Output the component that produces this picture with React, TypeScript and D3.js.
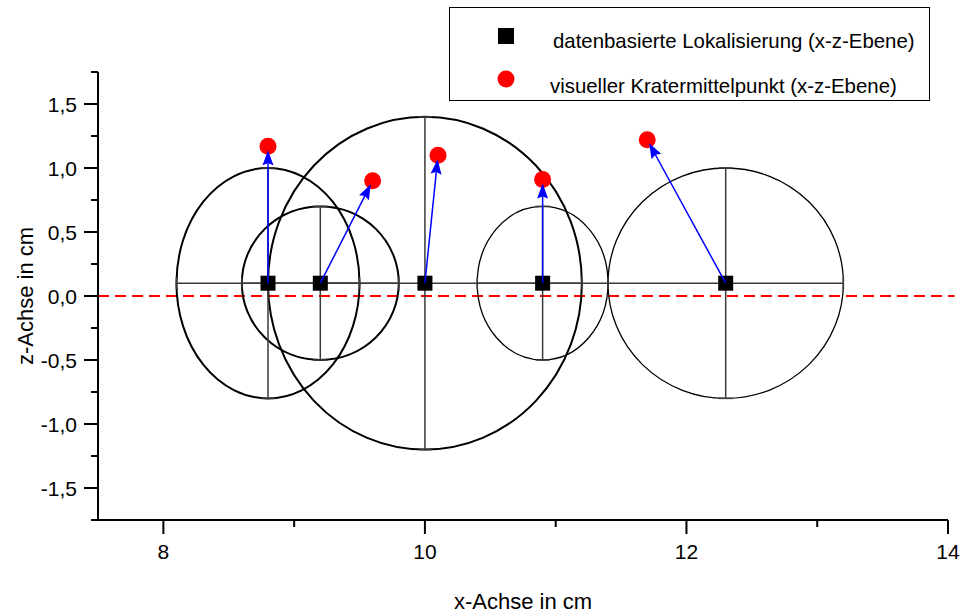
import React from "react";
import { scaleLinear } from "d3";

// data-based crater localisation (x-z plane) with error extents
const xCenters = [8.8, 9.2, 10.0, 10.9, 12.3];
const zCenters = [0.1, 0.1, 0.1, 0.1, 0.1];
const xErrors = [0.7, 0.6, 1.2, 0.5, 0.9];
const zErrors = [0.9, 0.6, 1.3, 0.6, 0.9];

// visual crater centre (x-z plane)
const xVisual = [8.8, 9.6, 10.1, 10.9, 11.7];
const zVisual = [1.17, 0.9, 1.1, 0.91, 1.22];

const xMajor = [8, 10, 12, 14];
const xMinor = [9, 11, 13];
const zMajor = [-1.5, -1.0, -0.5, 0.0, 0.5, 1.0, 1.5];
const zMinor = [-1.75, -1.25, -0.75, -0.25, 0.25, 0.75, 1.25, 1.75];

const legendLabels = [
  "datenbasierte Lokalisierung (x-z-Ebene)",
  "visueller Kratermittelpunkt (x-z-Ebene)",
];
const xTitle = "x-Achse in cm";
const zTitle = "z-Achse in cm";

const ellipseStroke = [2, 2, 2, 1.3, 1.3];

const W = 963;
const H = 615;
const FONT = "'Liberation Sans', Arial, sans-serif";

export default function App() {
  const x = scaleLinear().domain([7.5, 14]).range([98, 948]);
  const y = scaleLinear().domain([-1.75, 1.75]).range([520, 72]);
  const fmt = (v: number) => v.toFixed(1).replace(".", ",");

  const arrows = xCenters.map((xc, i) => {
    const x0 = x(xc), y0 = y(zCenters[i]);
    const x1 = x(xVisual[i]), y1 = y(zVisual[i]);
    const len = Math.hypot(x1 - x0, y1 - y0);
    const ux = (x1 - x0) / len, uy = (y1 - y0) / len;
    const tx = x1 - 4 * ux, ty = y1 - 4 * uy;
    const hl = 15, hw = 5.5;
    const bx = tx - hl * ux, by = ty - hl * uy;
    const head = `M${tx},${ty}L${bx - hw * uy},${by + hw * ux}L${bx + 2 * ux},${by + 2 * uy}L${bx + hw * uy},${by - hw * ux}Z`;
    return { x0, y0, lx: bx + 2 * ux, ly: by + 2 * uy, head };
  });

  return (
    <svg width={W} height={H} style={{ position: "absolute", left: 0, top: 0, background: "#fff" }} fontFamily={FONT}>
      {/* zero line */}
      <line x1={x(7.5)} x2={x(14.05)} y1={y(0)} y2={y(0)} stroke="#ff0000" strokeWidth={2} strokeDasharray="11,6" />

      {/* error ellipses */}
      {xCenters.map((xc, i) => (
        <ellipse key={"e" + i} cx={x(xc)} cy={y(zCenters[i])}
          rx={x(xc + xErrors[i]) - x(xc)} ry={y(zCenters[i]) - y(zCenters[i] + zErrors[i])}
          fill="none" stroke="#000" strokeWidth={ellipseStroke[i]} />
      ))}

      {/* error bars */}
      {xCenters.map((xc, i) => {
        const cy = y(zCenters[i]), cx = x(xc);
        const xl = x(xc - xErrors[i]), xr = x(xc + xErrors[i]);
        const yt = y(zCenters[i] + zErrors[i]), yb = y(zCenters[i] - zErrors[i]);
        return (
          <g key={"b" + i} stroke="#3a3a3a" strokeWidth={1.5}>
            <line x1={xl} x2={xr} y1={cy} y2={cy} />
            <line x1={cx} x2={cx} y1={yt} y2={yb} />
            <line x1={xl} x2={xl} y1={cy - 6} y2={cy + 6} />
            <line x1={xr} x2={xr} y1={cy - 6} y2={cy + 6} />
            <line x1={cx - 7} x2={cx + 7} y1={yt} y2={yt} />
            <line x1={cx - 7} x2={cx + 7} y1={yb} y2={yb} />
          </g>
        );
      })}

      {/* squares */}
      {xCenters.map((xc, i) => (
        <rect key={"s" + i} x={x(xc) - 7.5} y={y(zCenters[i]) - 7.5} width={15} height={15} fill="#000" />
      ))}

      {/* red circles */}
      {xVisual.map((xv, i) => (
        <circle key={"c" + i} cx={x(xv)} cy={y(zVisual[i])} r={8.5} fill="#ff0000" />
      ))}

      {/* arrows */}
      {arrows.map((a, i) => (
        <g key={"a" + i}>
          <line x1={a.x0} y1={a.y0} x2={a.lx} y2={a.ly} stroke="#0000ff" strokeWidth={1.5} />
          <path d={a.head} fill="#0000ff" />
        </g>
      ))}

      {/* axes */}
      <g stroke="#000" strokeWidth={2}>
        <line x1={x(7.5)} x2={x(14)} y1={y(-1.75)} y2={y(-1.75)} />
        <line x1={x(7.5)} x2={x(7.5)} y1={y(-1.75)} y2={y(1.75)} />
        {xMajor.map((v) => <line key={"xM" + v} x1={x(v)} x2={x(v)} y1={y(-1.75)} y2={y(-1.75) + 14} />)}
        {xMinor.map((v) => <line key={"xm" + v} x1={x(v)} x2={x(v)} y1={y(-1.75)} y2={y(-1.75) + 7} />)}
        {zMajor.map((v) => <line key={"zM" + v} x1={x(7.5) - 14} x2={x(7.5)} y1={y(v)} y2={y(v)} />)}
        {zMinor.map((v) => <line key={"zm" + v} x1={x(7.5) - 7} x2={x(7.5)} y1={y(v)} y2={y(v)} />)}
      </g>
      <g fontSize={21} fill="#000">
        {xMajor.map((v) => (
          <text key={"xl" + v} x={x(v)} y={559} textAnchor="middle">{String(v)}</text>
        ))}
        {zMajor.map((v) => (
          <text key={"zl" + v} x={77} y={y(v)} dy="0.36em" textAnchor="end">{fmt(v)}</text>
        ))}
      </g>
      <text x={(x(7.5) + x(14)) / 2} y={609} textAnchor="middle" fontSize={22}>{xTitle}</text>
      <text transform={`translate(33,${y(0)}) rotate(-90)`} textAnchor="middle" fontSize={22}>{zTitle}</text>

      {/* legend */}
      <rect x={449.5} y={7.5} width={480} height={93} fill="#fff" stroke="#000" strokeWidth={1} />
      <rect x={498} y={28} width={16} height={16} fill="#000" />
      <circle cx={506} cy={79} r={8.5} fill="#ff0000" />
      <text x={553} y={48} fontSize={20.4}>{legendLabels[0]}</text>
      <text x={550} y={93} fontSize={20.4}>{legendLabels[1]}</text>
    </svg>
  );
}
